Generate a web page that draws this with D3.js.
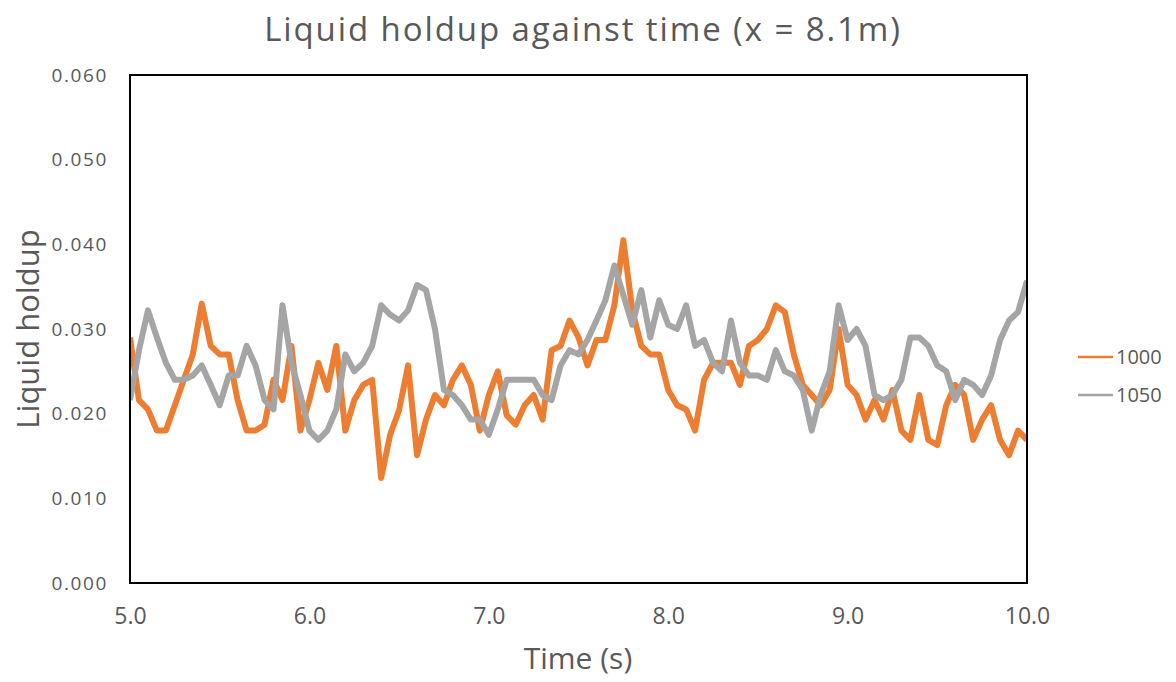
<!DOCTYPE html>
<html>
<head>
<meta charset="utf-8">
<script src="https://cdn.jsdelivr.net/npm/d3@7"></script>
<style>
  html, body { margin: 0; padding: 0; background: #fff; overflow: hidden; }
  svg { display: block; }
  text { fill: #595959; }
</style>
</head>
<body>
<svg id="chart"></svg>
<script>
// time samples every 0.05 s from 5.0 to 10.0
var times = d3.range(0, 101).map(function(i) { return +(5 + i * 0.05).toFixed(2); });

var holdup1000 = [
  0.0290, 0.0216, 0.0205, 0.0180, 0.0180, 0.0210, 0.0240, 0.0270, 0.0330, 0.0280,
  0.0270, 0.0270, 0.0216, 0.0180, 0.0180, 0.0187, 0.0240, 0.0216, 0.0280, 0.0180,
  0.0216, 0.0260, 0.0228, 0.0280, 0.0180, 0.0216, 0.0234, 0.0240, 0.0124, 0.0175,
  0.0204, 0.0257, 0.0151, 0.0193, 0.0222, 0.0210, 0.0240, 0.0257, 0.0234, 0.0180,
  0.0222, 0.0250, 0.0198, 0.0187, 0.0210, 0.0222, 0.0193, 0.0275, 0.0280, 0.0310,
  0.0290, 0.0257, 0.0287, 0.0287, 0.0328, 0.0405, 0.0322, 0.0280, 0.0270, 0.0270,
  0.0228, 0.0210, 0.0205, 0.0180, 0.0240, 0.0260, 0.0260, 0.0260, 0.0234, 0.0280,
  0.0287, 0.0300, 0.0328, 0.0320, 0.0270, 0.0234, 0.0222, 0.0210, 0.0228, 0.0300,
  0.0234, 0.0222, 0.0193, 0.0216, 0.0193, 0.0228, 0.0180, 0.0169, 0.0222, 0.0169,
  0.0163, 0.0210, 0.0234, 0.0222, 0.0169, 0.0193, 0.0210, 0.0169, 0.0151, 0.0180,
  0.0169
];

var holdup1050 = [
  0.0216, 0.0275, 0.0322, 0.0290, 0.0260, 0.0240, 0.0240, 0.0245, 0.0257, 0.0234,
  0.0210, 0.0245, 0.0245, 0.0280, 0.0257, 0.0216, 0.0205, 0.0328, 0.0260, 0.0222,
  0.0180, 0.0169, 0.0180, 0.0205, 0.0270, 0.0250, 0.0260, 0.0280, 0.0328, 0.0317,
  0.0310, 0.0322, 0.0352, 0.0346, 0.0300, 0.0228, 0.0222, 0.0210, 0.0193, 0.0193,
  0.0175, 0.0205, 0.0240, 0.0240, 0.0240, 0.0240, 0.0222, 0.0216, 0.0257, 0.0275,
  0.0270, 0.0287, 0.0310, 0.0334, 0.0375, 0.0340, 0.0305, 0.0346, 0.0290, 0.0334,
  0.0305, 0.0300, 0.0328, 0.0280, 0.0287, 0.0260, 0.0250, 0.0310, 0.0260, 0.0245,
  0.0245, 0.0240, 0.0275, 0.0250, 0.0245, 0.0228, 0.0180, 0.0222, 0.0250, 0.0328,
  0.0287, 0.0300, 0.0280, 0.0222, 0.0216, 0.0222, 0.0240, 0.0290, 0.0290, 0.0280,
  0.0257, 0.0250, 0.0216, 0.0240, 0.0234, 0.0222, 0.0245, 0.0287, 0.0310, 0.0320,
  0.0357
];

var seriesNames = ['1000', '1050'];
var seriesColors = ['#ED7D31', '#A5A5A5'];
var xTicks = [5, 6, 7, 8, 9, 10];
var yTicks = [0, 0.01, 0.02, 0.03, 0.04, 0.05, 0.06];

var outerWidth = 1176, outerHeight = 682;
var margins = {top: 75, right: 149, bottom: 99, left: 130};
var innerWidth = outerWidth - margins.left - margins.right;
var innerHeight = outerHeight - margins.top - margins.bottom;

var svg = d3.select('svg#chart')
    .attr('width', outerWidth)
    .attr('height', outerHeight);

var plot = svg.append('g')
    .attr('transform', 'translate(' + margins.left + ',' + margins.top + ')');

var xScale = d3.scaleLinear().domain([5, 10]).range([0, innerWidth]);
var yScale = d3.scaleLinear().domain([0, 0.06]).range([innerHeight, 0]);

var xAxis = d3.axisBottom(xScale).tickValues(xTicks).tickSize(0).tickPadding(25)
    .tickFormat(d3.format('.1f'));
var yAxis = d3.axisLeft(yScale).tickValues(yTicks).tickSize(0).tickPadding(22)
    .tickFormat(d3.format('.3f'));

plot.append('g')
    .attr('class', 'x axis')
    .attr('transform', 'translate(0,' + innerHeight + ')')
    .call(xAxis)
    .call(function(g) { g.select('.domain').remove(); })
    .selectAll('text')
    .style('font-family', '"Open Sans", sans-serif')
    .style('font-size', '23px')
    .style('fill', '#595959');

plot.append('g')
    .attr('class', 'y axis')
    .call(yAxis)
    .call(function(g) { g.select('.domain').remove(); })
    .selectAll('text')
    .style('font-family', '"Open Sans", sans-serif')
    .style('font-size', '19px')
    .style('letter-spacing', '1.6px')
    .style('fill', '#595959');

// clip so thick lines stay inside the box
plot.append('clipPath').attr('id', 'clip')
  .append('rect').attr('width', innerWidth).attr('height', innerHeight);

var line = d3.line()
    .x(function(d) { return xScale(d.t); })
    .y(function(d) { return yScale(d.v); });

var allSeries = [holdup1000, holdup1050];
allSeries.forEach(function(vals, k) {
    var pts = times.map(function(t, i) { return {t: t, v: vals[i]}; });
    plot.append('path')
        .datum(pts)
        .attr('clip-path', 'url(#clip)')
        .attr('fill', 'none')
        .attr('stroke', seriesColors[k])
        .attr('stroke-width', 6)
        .attr('stroke-linejoin', 'round')
        .attr('d', line);
});

// plot border
plot.append('rect')
    .attr('width', innerWidth)
    .attr('height', innerHeight)
    .attr('fill', 'none')
    .attr('stroke', '#000')
    .attr('stroke-width', 2);

// title
svg.append('text')
    .attr('x', 583)
    .attr('y', 41)
    .attr('text-anchor', 'middle')
    .style('font-family', '"Open Sans", sans-serif')
    .style('font-size', '33px')
    .style('letter-spacing', '1.9px')
    .text('Liquid holdup against time (x = 8.1m)');

svg.append('text')
    .attr('x', 578)
    .attr('y', 669)
    .attr('text-anchor', 'middle')
    .style('font-family', '"Open Sans", sans-serif')
    .style('font-size', '30px')
    .text('Time (s)');

svg.append('text')
    .attr('transform', 'translate(39,' + (margins.top + innerHeight / 2) + ') rotate(-90)')
    .attr('text-anchor', 'middle')
    .style('font-family', '"Open Sans", sans-serif')
    .style('font-size', '31px')
    .text('Liquid holdup');

// legend
var legend = svg.append('g').attr('transform', 'translate(1078,357)');
seriesNames.forEach(function(name, k) {
    var row = legend.append('g').attr('transform', 'translate(0,' + (k * 38) + ')');
    row.append('line')
        .attr('x1', 0).attr('x2', 35)
        .attr('stroke', seriesColors[k])
        .attr('stroke-width', 2.5);
    row.append('text')
        .attr('x', 38)
        .attr('dy', '0.35em')
        .style('font-family', '"Open Sans", sans-serif')
        .style('font-size', '20px')
        .text(name);
});
</script>
</body>
</html>
